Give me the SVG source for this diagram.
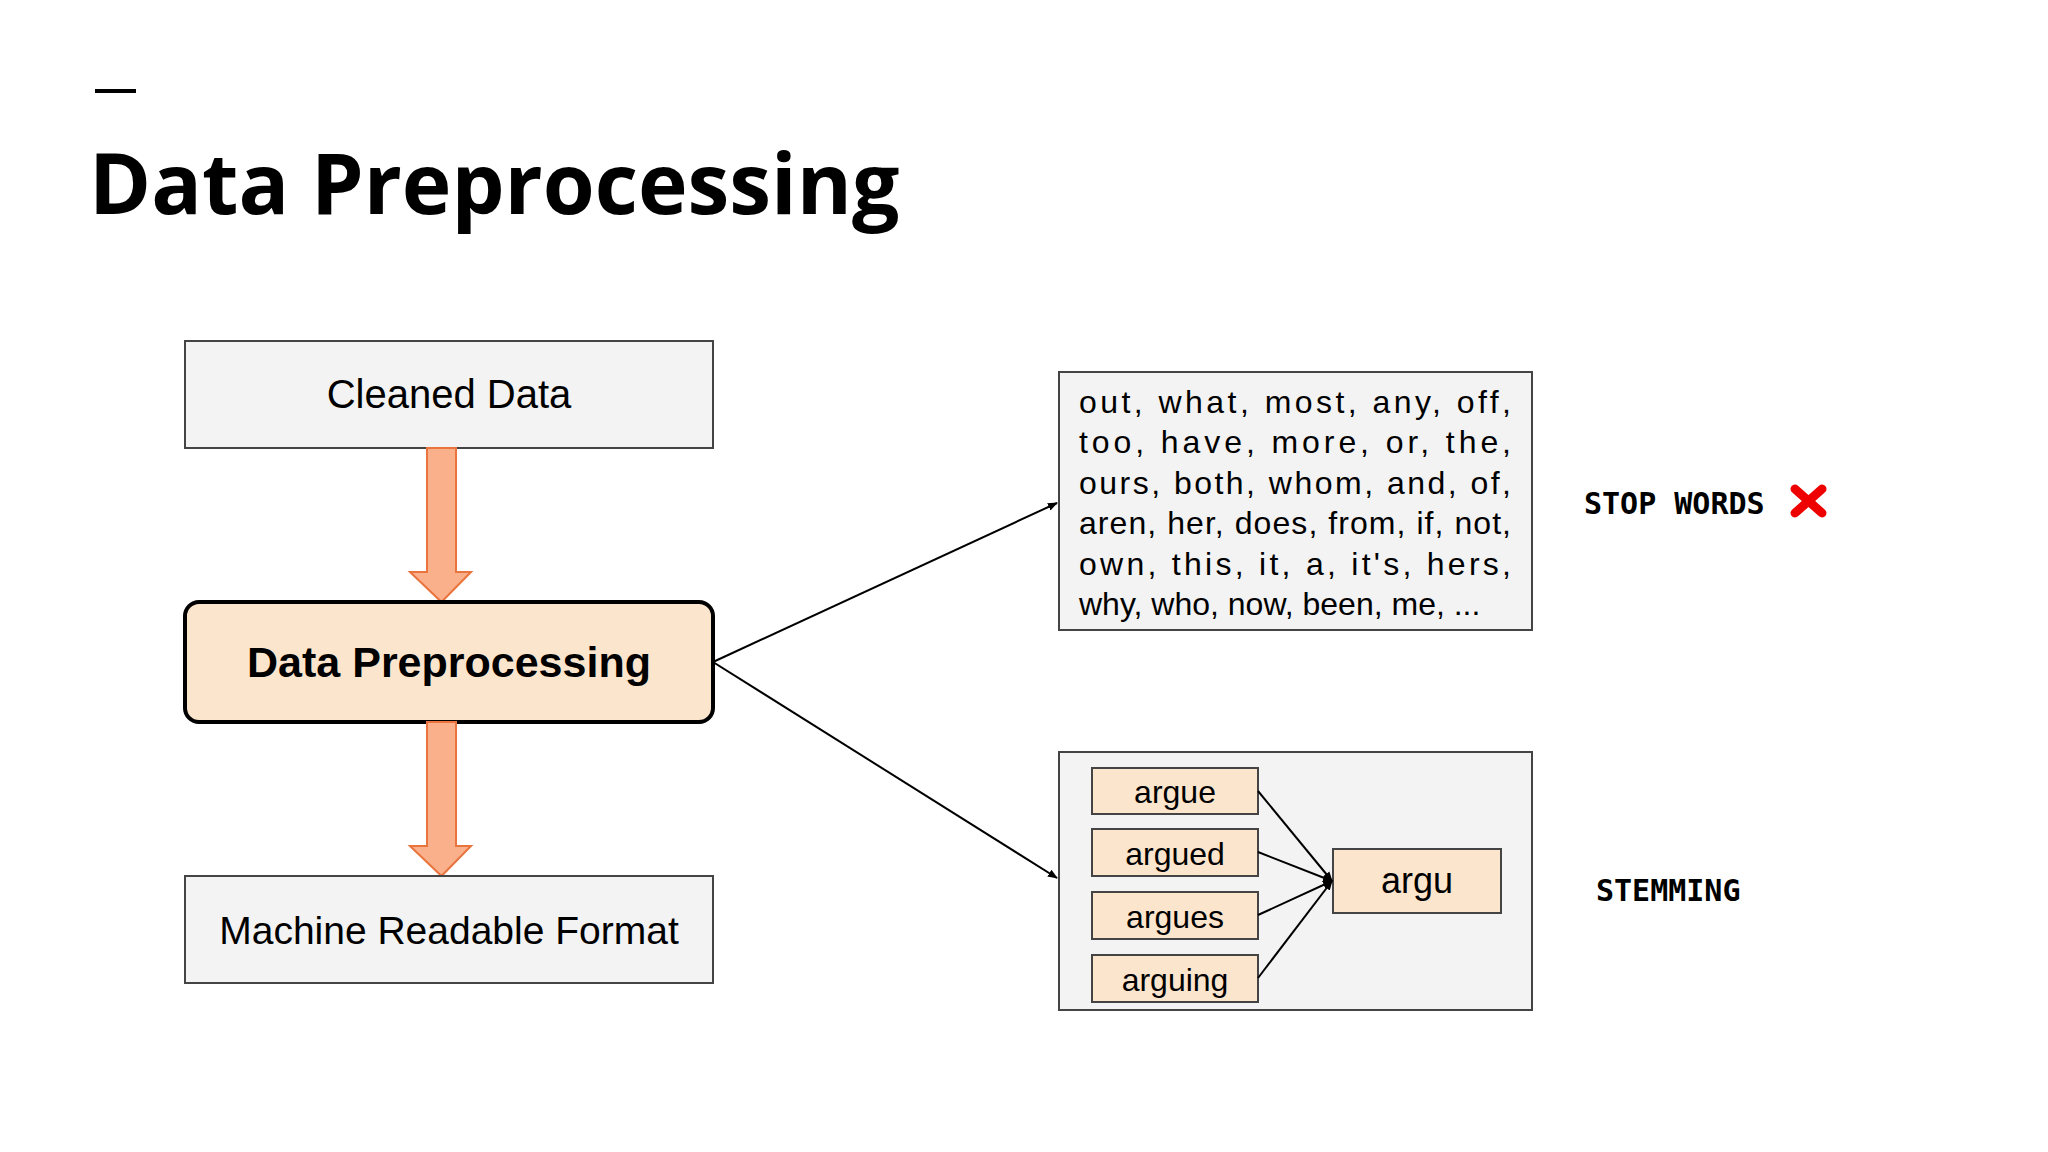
<svg xmlns="http://www.w3.org/2000/svg" width="2048" height="1152" viewBox="0 0 2048 1152">
<style>
.sans{font-family:"Liberation Sans",Arial,sans-serif;fill:#000}
.mono{font-family:"DejaVu Sans Mono","Liberation Mono",monospace;font-weight:bold;font-size:30px;fill:#000}
.gbox{fill:#f3f3f3;stroke:#444;stroke-width:2}
.obox{fill:#fce5cd;stroke:#444;stroke-width:2}
.conn{stroke:#000;stroke-width:2;fill:none}
.big{fill:#f9b08b;stroke:#e9743d;stroke-width:2}
</style>
<defs>
<marker id="ah" markerWidth="10" markerHeight="10" refX="9" refY="5" orient="auto" markerUnits="userSpaceOnUse">
<path d="M0,1 L10,5 L0,9 Z" fill="#000"/>
</marker>
</defs>
<rect width="2048" height="1152" fill="#fff"/>
<rect x="95" y="89" width="41" height="4" fill="#000"/>
<text x="89" y="214" font-family="Open Sans,'Noto Sans',sans-serif" font-weight="bold" font-size="84" fill="#000">Data Preprocessing</text>

<g id="cleaned">
<rect class="gbox" x="185" y="341" width="528" height="107"/>
<text class="sans" x="449" y="408" font-size="40" text-anchor="middle">Cleaned Data</text>
</g>
<g id="arrow1"><path class="big" d="M427,448 H456 V572 H471 L441.5,602 L410,572 H427 Z"/></g>
<g id="dp">
<rect x="185" y="602" width="528" height="120" rx="14" fill="#fce5cd" stroke="#000" stroke-width="4"/>
<text class="sans" x="449" y="677" font-size="43" font-weight="bold" text-anchor="middle">Data Preprocessing</text>
</g>
<g id="arrow2"><path class="big" d="M427,722 H456 V846 H471 L441.5,876 L410,846 H427 Z"/></g>
<g id="mrf">
<rect class="gbox" x="185" y="876" width="528" height="107"/>
<text class="sans" x="449" y="944" font-size="39" text-anchor="middle">Machine Readable Format</text>
</g>

<g id="stopwords">
<rect class="gbox" x="1059" y="372" width="473" height="258"/>
<g class="sans" font-size="32">
<text x="1079" y="413" textLength="432" lengthAdjust="spacing">out, what, most, any, off,</text>
<text x="1079" y="453" textLength="432" lengthAdjust="spacing">too, have, more, or, the,</text>
<text x="1079" y="494" textLength="432" lengthAdjust="spacing">ours, both, whom, and, of,</text>
<text x="1079" y="534" textLength="432" lengthAdjust="spacing">aren, her, does, from, if, not,</text>
<text x="1079" y="575" textLength="432" lengthAdjust="spacing">own, this, it, a, it's, hers,</text>
<text x="1079" y="615">why, who, now, been, me, ...</text>
</g>
</g>
<text class="mono" x="1584" y="514">STOP WORDS</text>
<g id="redx" stroke="#e00" stroke-width="9" stroke-linecap="round">
<line x1="1795" y1="489" x2="1822" y2="513"/><line x1="1822" y1="489" x2="1795" y2="513"/>
</g>

<g id="stemming">
<rect class="gbox" x="1059" y="752" width="473" height="258"/>
<g class="sans" font-size="32" text-anchor="middle">
<rect class="obox" x="1092" y="768" width="166" height="46"/><text x="1175" y="803">argue</text>
<rect class="obox" x="1092" y="829" width="166" height="47"/><text x="1175" y="865">argued</text>
<rect class="obox" x="1092" y="892" width="166" height="47"/><text x="1175" y="928">argues</text>
<rect class="obox" x="1092" y="955" width="166" height="47"/><text x="1175" y="991">arguing</text>
<rect class="obox" x="1333" y="849" width="168" height="64"/><text x="1417" y="893" font-size="36">argu</text>
</g>
</g>
<text class="mono" x="1596" y="901">STEMMING</text>

<g id="connectors">
<line class="conn" x1="713" y1="662" x2="1057" y2="503" marker-end="url(#ah)"/>
<line class="conn" x1="713" y1="662" x2="1057" y2="878" marker-end="url(#ah)"/>
<g stroke-width="1.5">
<line class="conn" x1="1258" y1="791" x2="1332" y2="881" marker-end="url(#ah)"/>
<line class="conn" x1="1258" y1="852" x2="1332" y2="881" marker-end="url(#ah)"/>
<line class="conn" x1="1258" y1="915" x2="1332" y2="881" marker-end="url(#ah)"/>
<line class="conn" x1="1258" y1="978" x2="1332" y2="881" marker-end="url(#ah)"/>
</g>
</g>
</svg>
